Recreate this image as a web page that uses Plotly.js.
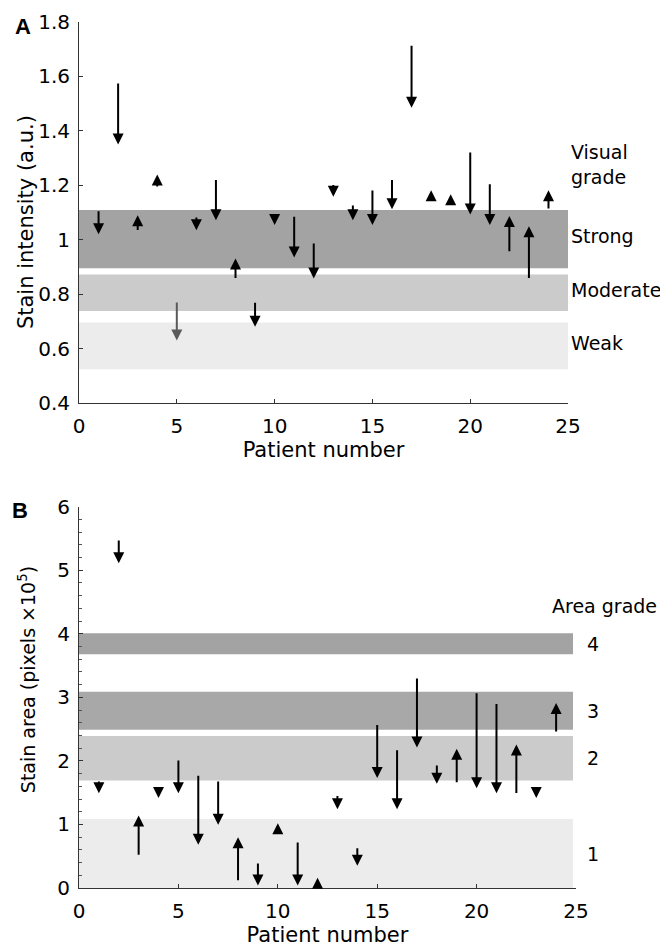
<!DOCTYPE html>
<html>
<head>
<meta charset="utf-8">
<script src="https://cdn.plot.ly/plotly-3.0.1.min.js"></script>
<style>html,body{margin:0;padding:0;background:#fff;}</style>
</head>
<body>
<div id="chart" style="width:660px;height:947px;"></div>
<script>
// ---- data ----
const patients = [1,2,3,4,5,6,7,8,9,10,11,12,13,14,15,16,17,18,19,20,21,22,23,24];

// Panel A: stain intensity (a.u.), arrow from start value to end value
const intensityStart = [1.11,1.58,1.03,1.19,0.775,1.087,1.225,0.854,0.774,1.087,1.09,0.992,1.207,1.131,1.186,1.225,1.718,1.158,1.139,1.326,1.209,0.952,0.854,1.109];
const intensityEnd   = [1.02,1.35,1.09,1.24,0.63,1.035,1.072,0.931,0.68,1.054,0.935,0.858,1.158,1.072,1.054,1.112,1.485,1.182,1.167,1.093,1.054,1.087,1.05,1.182];

// Panel B: stain area (pixels x10^5)
const areaStart = [1.70,5.49,0.50,1.53,2.03,1.79,1.70,0.10,0.41,0.93,0.74,0.03,1.47,0.65,2.59,2.19,3.32,1.95,1.64,3.09,2.92,1.47,1.55,2.44];
const areaEnd   = [1.49,5.11,1.14,1.415,1.49,0.68,0.995,0.80,0.04,1.02,0.04,0.16,1.24,0.35,1.73,1.24,2.21,1.64,2.19,1.57,1.49,2.26,1.415,2.91];

// Visual grade bands (panel A)
const visualGrades = ['Strong','Moderate','Weak'];
const visualLow  = [0.895,0.738,0.524];
const visualHigh = [1.109,0.872,0.696];

// Area grade bands (panel B)
const areaGrades = ['4','3','2','1'];
const areaLow  = [3.68,2.49,1.69,0];
const areaHigh = [4.01,3.09,2.39,1.085];

const xTicks = [0,5,10,15,20,25];

// ---- styling ----
const FONT = 'DejaVu Sans, Liberation Sans, Arial, sans-serif';
const visualColors = ['#a3a3a3','#cbcbcb','#ececec'];
const areaColors = ['#a3a3a3','#a8a8a8','#cbcbcb','#ececec'];
const greyArrowPatient = 5;

const shapes = [];
visualGrades.forEach((g,i)=>{
  shapes.push({type:'rect',xref:'x',yref:'y',x0:0,x1:25,y0:visualLow[i],y1:visualHigh[i],
    fillcolor:visualColors[i],line:{width:0},layer:'below'});
});
areaGrades.forEach((g,i)=>{
  shapes.push({type:'rect',xref:'x2',yref:'y2',x0:0,x1:24.85,y0:areaLow[i],y1:areaHigh[i],
    fillcolor:areaColors[i],line:{width:0},layer:'below'});
});

const annotations = [];
function arrow(xr,yr,x,y0,y1,color){
  annotations.push({xref:xr,yref:yr,axref:xr,ayref:yr,x:x,y:y1,ax:x,ay:y0,text:'',
    showarrow:true,arrowhead:2,arrowsize:1.1,arrowwidth:2,arrowcolor:color,standoff:0,startstandoff:0});
}
patients.forEach((p,i)=>{
  arrow('x','y',p,intensityStart[i],intensityEnd[i], p===greyArrowPatient?'#5a5a5a':'#000');
  arrow('x2','y2',p,areaStart[i],areaEnd[i],'#000');
});

// grade labels (x in paper coords, y in data coords)
const labFont = {family:FONT,size:19,color:'#000'};
annotations.push({xref:'paper',yref:'y',x:0.986,y:1.278,text:'Visual<br>grade',showarrow:false,
  xanchor:'left',yanchor:'middle',align:'left',font:labFont});
visualGrades.forEach((g,i)=>{
  annotations.push({xref:'paper',yref:'y',x:0.986,y:(visualLow[i]+visualHigh[i])/2+0.01,text:g,showarrow:false,
    xanchor:'left',yanchor:'middle',font:labFont});
});
annotations.push({xref:'paper',yref:'y2',x:1.058,y:4.43,text:'Area grade',showarrow:false,
  xanchor:'center',yanchor:'middle',font:labFont});
areaGrades.forEach((g,i)=>{
  annotations.push({xref:'paper',yref:'y2',x:1.0336,y:(areaLow[i]+areaHigh[i])/2,text:g,showarrow:false,
    xanchor:'center',yanchor:'middle',font:labFont});
});
// panel letters
annotations.push({xref:'paper',yref:'paper',x:-0.113,y:0.9945,text:'<b>A</b>',showarrow:false,
  xanchor:'center',yanchor:'middle',font:{family:'Liberation Sans, Arial, sans-serif',size:22,color:'#000'}});
annotations.push({xref:'paper',yref:'paper',x:-0.119,y:0.4355,text:'<b>B</b>',showarrow:false,
  xanchor:'center',yanchor:'middle',font:{family:'Liberation Sans, Arial, sans-serif',size:22,color:'#000'}});

// y-axis titles (placed as rotated annotations for exact positioning)
const titleFont = {family:FONT,size:21,color:'#000'};
annotations.push({xref:'paper',yref:'paper',x:-0.1066,y:0.769,text:'Stain intensity (a.u.)',textangle:-90,
  showarrow:false,xanchor:'center',yanchor:'middle',font:titleFont});
annotations.push({xref:'paper',yref:'paper',x:-0.1046,y:0.240,text:'Stain area (pixels \u00d710<sup>5</sup>)',textangle:-90,
  showarrow:false,xanchor:'center',yanchor:'middle',font:{family:FONT,size:19,color:'#000'}});

const tickFont = {family:FONT,size:20,color:'#000'};
const axisCommon = {showline:true,linecolor:'#333',linewidth:1,ticks:'inside',ticklen:4,tickcolor:'#333',
  showgrid:false,zeroline:false,tickfont:tickFont,ticklabelstandoff:5};

const layout = {
  width:660,height:947,
  margin:{l:79,r:84,t:22,b:59},
  paper_bgcolor:'#fff',plot_bgcolor:'rgba(0,0,0,0)',
  showlegend:false,
  font:{family:FONT,color:'#000'},
  xaxis:Object.assign({},axisCommon,{domain:[0,0.984],range:[0,25],tickvals:xTicks,anchor:'y',
    title:{text:'Patient number',font:titleFont,standoff:0}}),
  yaxis:Object.assign({},axisCommon,{domain:[0.56,1],range:[0.4,1.8],dtick:0.2,tick0:0.4,anchor:'x',
    ticklabelstandoff:4}),
  xaxis2:Object.assign({},axisCommon,{domain:[0,1],range:[0,25],tickvals:xTicks,anchor:'y2',
    title:{text:'Patient number',font:titleFont,standoff:0}}),
  yaxis2:Object.assign({},axisCommon,{domain:[0,0.4403],range:[0,6],dtick:1,anchor:'x2',
    ticklabelstandoff:4,minor:{dtick:0.2,ticks:'inside',ticklen:3,tickcolor:'#555'}}),
  shapes:shapes,
  annotations:annotations
};

const traces = [
  {type:'scatter',x:patients,y:intensityEnd,xaxis:'x',yaxis:'y',mode:'markers',marker:{opacity:0},hoverinfo:'skip'},
  {type:'scatter',x:patients,y:areaEnd,xaxis:'x2',yaxis:'y2',mode:'markers',marker:{opacity:0},hoverinfo:'skip'}
];

Plotly.newPlot('chart',traces,layout,{displayModeBar:false,staticPlot:true});
</script>
</body>
</html>
